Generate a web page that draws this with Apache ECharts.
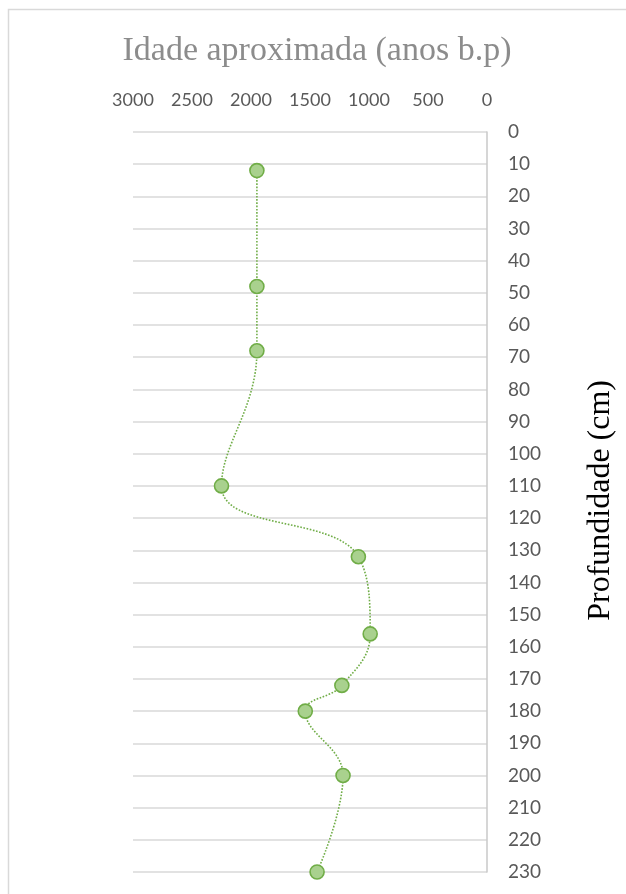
<!DOCTYPE html>
<html>
<head>
<meta charset="utf-8">
<style>
  html, body { margin: 0; padding: 0; background: #ffffff; }
  #chart { width: 626px; height: 894px; }
</style>
<script src="https://cdn.jsdelivr.net/npm/echarts@6/dist/echarts.min.js"></script>
</head>
<body>
<div id="chart"></div>
<script>
// Sample depths (cm) and approximate ages (years b.p.)
const depths = [12, 48, 68, 110, 132, 156, 172, 180, 200, 230];
const ages = [1950, 1950, 1950, 2250, 1090, 990, 1230, 1540, 1220, 1440];

const titleText = 'Idade aproximada (anos b.p)';
const depthAxisName = 'Profundidade (cm)';

const points = depths.map((d, i) => [ages[i], d]);

const chart = echarts.init(document.getElementById('chart'), null, { renderer: 'canvas' });

chart.setOption({
  backgroundColor: '#ffffff',
  animation: false,
  title: {
    text: titleText,
    left: 312,
    top: 29,
    textAlign: 'center',
    textStyle: {
      fontFamily: 'Liberation Serif',
      fontWeight: 'normal',
      fontSize: 34,
      color: '#8c8c8c'
    }
  },
  graphic: [{
    type: 'rect',
    shape: { x: 8.5, y: 9.5, width: 800, height: 1000 },
    style: { fill: 'none', stroke: '#d9d9d9', lineWidth: 1.5 },
    silent: true
  }, {
    type: 'text',
    left: 585,
    top: 380,
    style: {
      text: depthAxisName,
      font: '32px "Liberation Serif"',
      fill: '#000000'
    },
    rotation: Math.PI / 2
  }],
  grid: { left: 133, right: 139, top: 132, bottom: 22, containLabel: false },
  xAxis: {
    type: 'value',
    position: 'top',
    inverse: true,
    min: 0,
    max: 3000,
    interval: 500,
    axisLine: { show: false },
    axisTick: { show: false },
    splitLine: { show: false },
    axisLabel: {
      margin: 23,
      color: '#595959',
      fontFamily: 'Lato',
      fontSize: 18,
      formatter: (v) => String(v)
    }
  },
  yAxis: {
    type: 'value',
    position: 'right',
    inverse: true,
    min: 0,
    max: 230,
    interval: 10,
    axisLine: { show: true, lineStyle: { color: '#c8c8c8', width: 1.5 } },
    axisTick: { show: false },
    splitLine: { show: true, lineStyle: { color: '#d9d9d9', width: 1.5 } },
    axisLabel: {
      margin: 21,
      align: 'left',
      color: '#595959',
      fontFamily: 'Lato',
      fontSize: 19
    }
  },
  series: [{
    type: 'line',
    data: points,
    smooth: 0.42,
    symbol: 'circle',
    symbolSize: 14,
    itemStyle: { color: '#a9d18e', borderColor: '#70ad47', borderWidth: 1.6 },
    lineStyle: { color: '#70ad47', width: 1.6, type: 'dotted' }
  }]
});
</script>
</body>
</html>
